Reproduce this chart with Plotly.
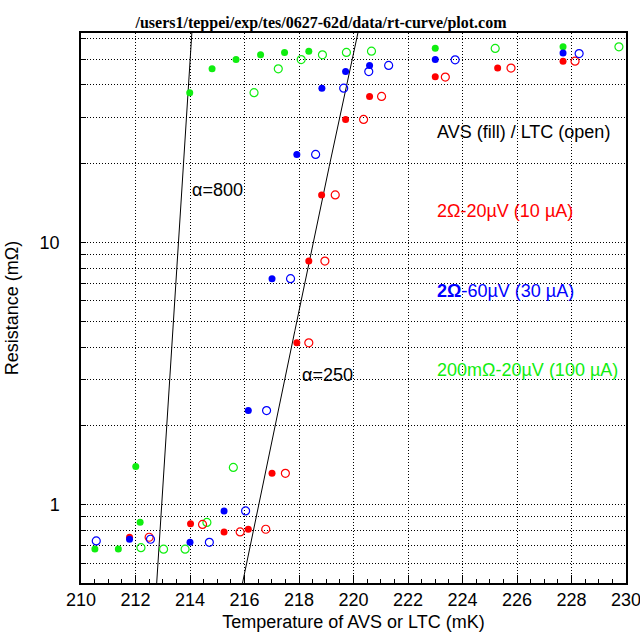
import numpy as np
import plotly.graph_objects as go

# ---- data (temperature in mK, resistance in mOhm) ----
red_avs_T = [211.78, 214.02, 215.25, 216.14, 217.01, 217.92, 218.36, 218.83, 219.71, 220.59, 223.00, 225.29, 227.69]
red_avs_R = [0.753, 0.848, 0.789, 0.808, 1.32, 4.15, 8.51, 15.2, 29.5, 36.1, 42.9, 46.3, 49.2]
red_ltc_T = [212.50, 214.46, 215.84, 216.78, 217.50, 218.36, 218.95, 219.33, 220.37, 221.03, 223.37, 225.78, 228.13]
red_ltc_R = [0.753, 0.843, 0.789, 0.808, 1.32, 4.15, 8.51, 15.2, 29.5, 36.1, 42.8, 46.3, 49.2]

blue_avs_T = [211.78, 214.00, 215.25, 216.14, 217.01, 217.92, 218.84, 219.71, 220.59, 223.00, 227.69]
blue_avs_R = [0.740, 0.720, 0.949, 2.29, 7.29, 21.7, 38.8, 44.9, 47.4, 49.9, 52.8]
blue_ltc_T = [210.56, 212.55, 214.71, 216.04, 216.81, 217.69, 218.61, 219.64, 220.56, 221.29, 223.73, 228.28]
blue_ltc_R = [0.729, 0.740, 0.720, 0.949, 2.29, 7.29, 21.7, 38.8, 44.9, 47.4, 49.8, 52.6]

green_avs_T = [210.51, 211.37, 212.17, 212.01, 213.99, 214.81, 215.69, 216.59, 217.47, 218.36, 223.00, 227.69]
green_avs_R = [0.679, 0.679, 0.859, 1.40, 37.3, 46.0, 49.9, 52.0, 53.1, 53.7, 55.1, 55.8]
green_ltc_T = [212.20, 213.03, 213.82, 214.62, 215.59, 216.35, 217.24, 218.08, 218.86, 219.74, 220.66, 225.20, 229.74]
green_ltc_R = [0.687, 0.678, 0.678, 0.858, 1.39, 37.3, 46.0, 49.9, 52.0, 53.1, 53.7, 55.0, 55.8]

# power-law guide lines R = (T / T1)^alpha  (T1: temperature where R = 1 mOhm)
alphas = [800, 250]
alpha_T1 = [212.96, 216.52]

x_ticks = [210, 212, 214, 216, 218, 220, 222, 224, 226, 228, 230]
y_grid = [0.5, 0.6, 0.7, 0.8, 0.9, 1, 2, 3, 4, 5, 6, 7, 8, 9, 10, 20, 30, 40, 50, 60]
y_labels = {1: "1", 10: "10"}

RED = "#ff0000"
BLUE = "#0000ff"
GREEN = "#10ee10"

fig = go.Figure()

# guide lines
Tline = np.linspace(210, 230, 2001)
for a, t1 in zip(alphas, alpha_T1):
    fig.add_trace(go.Scatter(x=Tline, y=(Tline / t1) ** a, mode="lines",
                             line=dict(color="black", width=1), hoverinfo="skip"))

def filled(T, R, c):
    fig.add_trace(go.Scatter(x=T, y=R, mode="markers",
                             marker=dict(symbol="circle", size=7, color=c, line=dict(width=0))))

def opened(T, R, c):
    fig.add_trace(go.Scatter(x=T, y=R, mode="markers",
                             marker=dict(symbol="circle-open", size=8, color=c, line=dict(width=1.2, color=c))))

filled(green_avs_T, green_avs_R, GREEN)
opened(green_ltc_T, green_ltc_R, GREEN)
filled(red_avs_T, red_avs_R, RED)
opened(red_ltc_T, red_ltc_R, RED)
filled(blue_avs_T, blue_avs_R, BLUE)
opened(blue_ltc_T, blue_ltc_R, BLUE)

sans = "Liberation Sans, Arial, sans-serif"
ann = [
    dict(text="AVS (fill) / LTC (open)", x=223.0, y=np.log10(26.5), color="black"),
    dict(text="2Ω-20µV (10 µA)", x=223.0, y=np.log10(13.2), color=RED),
    dict(text="<b>2Ω</b>-60µV (30 µA)", x=223.0, y=np.log10(6.56), color=BLUE),
    dict(text="200mΩ-20µV (100 µA)", x=223.0, y=np.log10(3.28), color=GREEN),
    dict(text="α=800", x=213.99, y=np.log10(15.9), color="black"),
    dict(text="α=250", x=218.02, y=np.log10(3.13), color="black"),
]
for a in ann:
    fig.add_annotation(text=a["text"], x=a["x"], y=a["y"], xref="x", yref="y",
                       xanchor="left", yanchor="middle", showarrow=False,
                       font=dict(family=sans, size=18, color=a["color"]))

fig.update_layout(
    width=640, height=638,
    margin=dict(l=81, r=14, t=33, b=55, autoexpand=False),
    paper_bgcolor="white", plot_bgcolor="white",
    showlegend=False,
    font=dict(family=sans, size=18, color="black"),
    title=dict(text="<b>/users1/teppei/exp/tes/0627-62d/data/rt-curve/plot.com</b>",
               x=321 / 640, xanchor="center", y=1 - 22 / 638, yanchor="middle",
               font=dict(family="Liberation Serif, Times New Roman, serif", size=16, color="black")),
)

fig.update_xaxes(
    range=[210, 230], tickvals=x_ticks, ticktext=[str(v) for v in x_ticks],
    ticks="inside", ticklen=8, tickcolor="black", tickwidth=1,
    minor=dict(dtick=0.5, ticks="inside", ticklen=4, tickcolor="black", showgrid=False),
    showgrid=True, gridcolor="black", griddash="1px,2px", gridwidth=1,
    showline=True, linecolor="black", linewidth=1.5, mirror=True,
    zeroline=False, tickfont=dict(size=18), automargin=False, ticklabeloverflow="allow",
    title=dict(text="Temperature of AVS or LTC (mK)", font=dict(size=18), standoff=6),
)
fig.update_yaxes(
    type="log", range=[np.log10(0.504), np.log10(63)],
    tickvals=y_grid, ticktext=[y_labels.get(v, "") for v in y_grid],
    ticks="inside", ticklen=5, tickcolor="black", tickwidth=1,
    showgrid=True, gridcolor="black", griddash="1px,2px", gridwidth=1,
    showline=True, linecolor="black", linewidth=1.5, mirror=True,
    zeroline=False, tickfont=dict(size=18), ticklabelstandoff=16, automargin=False,
    title=dict(text="Resistance (mΩ)", font=dict(size=18), standoff=16),
)

fig.write_html("out.html", config={"displayModeBar": False},
               post_script="document.body.style.margin='0';document.body.style.overflow='hidden';")
